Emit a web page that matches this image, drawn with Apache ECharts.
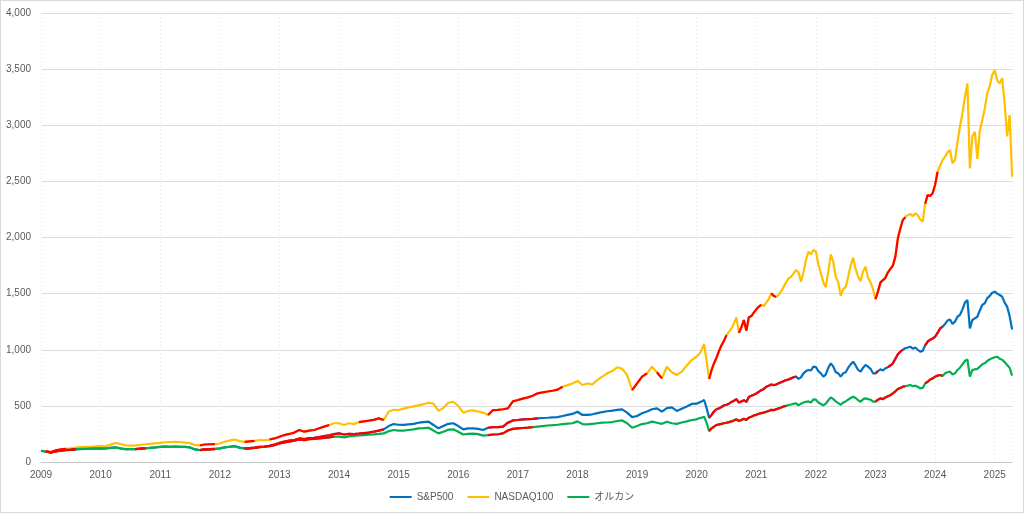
<!DOCTYPE html>
<html><head><meta charset="utf-8">
<script src="https://cdn.jsdelivr.net/npm/echarts@6/dist/echarts.min.js"></script>
<style>html,body{margin:0;padding:0;background:#fff}#c{width:1022px;height:511px;border:1px solid #d9d9d9}</style>
</head><body><div id="c"></div>
<script>
// x positions (decimal years): monthly 2009-2019, half-monthly 2020-2025/04
const tMonthly = [];
for (let y = 2009; y <= 2019; y++) for (let m = 0; m < 12; m++) tMonthly.push(y + m / 12);
const tHalf = [];
for (let k = 0; k < 128; k++) tHalf.push(2020 + k / 24);
const t = tMonthly.concat(tHalf);

const seriesNames = ['S&P500', 'NASDAQ100', 'オルカン'];
const yTicks = [0, 500, 1000, 1500, 2000, 2500, 3000, 3500, 4000];

const nasdaq = [
  100, 92, 88, 105, 112, 118, 122, 128, 132, 134, 135, 140,
  142, 140, 155, 170, 160, 148, 146, 148, 152, 158, 162, 166,
  170, 176, 178, 180, 178, 172, 168, 150, 148, 156, 158, 160,
  165, 180, 192, 200, 186, 180, 184, 188, 196, 192, 200, 210,
  225, 240, 250, 262, 285, 270, 280, 285, 300, 315, 330, 345,
  345, 330, 345, 340, 355, 362, 368, 375, 389, 374, 450, 465,
  463, 475, 487, 495, 505, 515, 528, 520, 457, 480, 528, 537,
  500, 439, 455, 460, 450, 440, 419, 463, 465, 470, 478, 540,
  552, 565, 576, 590, 612, 620, 628, 635, 645, 671, 685, 700,
  722, 686, 700, 690, 730, 760, 790, 810, 844, 830, 775, 641,
  700, 760, 790, 849, 800, 745, 849, 800, 775, 805, 860, 908,
  // 2020 half-monthly
  940, 960, 1000, 1051, 900, 740, 820, 880, 930, 990, 1040, 1080,
  1130, 1160, 1190, 1235, 1289, 1150, 1200, 1265, 1170, 1290, 1300, 1330,
  1360, 1384, 1400, 1390, 1420, 1450, 1503, 1480, 1470, 1490, 1520, 1560,
  1600, 1636, 1650, 1680, 1710, 1690, 1606, 1690, 1800, 1874, 1850, 1889,
  1874, 1760, 1681, 1600, 1560, 1700, 1850, 1780, 1650, 1600, 1480, 1540,
  1560, 1650, 1750, 1820, 1720, 1650, 1610, 1700, 1740, 1640, 1600, 1540,
  1450, 1520, 1600, 1620, 1640, 1690, 1720, 1750, 1830, 1993, 2080, 2156,
  2180, 2200, 2210, 2190, 2215, 2200, 2160, 2141, 2300, 2379, 2370, 2394,
  2470, 2586, 2640, 2690, 2720, 2760, 2779, 2661, 2690, 2850, 2987, 3106,
  3250, 3373, 2616, 2900, 2942, 2700, 2950, 3047, 3150, 3284, 3350, 3450,
  3492, 3400, 3373, 3420, 3195, 2900, 3090, 2541
];

const sp500 = [
  100, 92, 85, 95, 102, 106, 108, 112, 115, 116, 118, 120,
  122, 120, 126, 130, 122, 115, 116, 114, 118, 122, 126, 130,
  135, 137, 136, 138, 136, 134, 130, 112, 107, 112, 114, 118,
  122, 130, 136, 140, 128, 122, 124, 128, 134, 138, 145, 155,
  170, 182, 190, 196, 210, 205, 212, 215, 222, 230, 238, 248,
  255, 245, 250, 248, 252, 258, 262, 270, 280, 291, 320, 338,
  332, 330, 335, 340, 350, 355, 359, 330, 300, 320, 340, 345,
  320, 291, 300, 300, 295, 285, 305, 310, 310, 315, 350, 370,
  374, 380, 382, 385, 389, 392, 394, 398, 400, 410, 420, 428,
  448, 419, 420, 425, 435, 445, 452, 457, 465, 469, 440, 400,
  410, 434, 450, 470, 478, 448, 480, 487, 455, 475, 495, 517,
  // 2020 half-monthly
  520, 530, 540, 552, 480, 395, 420, 450, 470, 478, 490, 505,
  510, 520, 535, 545, 560, 530, 540, 550, 535, 580, 590, 600,
  610, 625, 640, 650, 671, 680, 690, 685, 690, 701, 710, 720,
  730, 735, 745, 755, 760, 740, 754, 790, 810, 820, 815, 849,
  845, 810, 790, 760, 780, 840, 879, 850, 800, 790, 760, 790,
  800, 840, 870, 894, 860, 820, 805, 840, 864, 850, 830, 790,
  790, 810, 826, 815, 835, 845, 860, 879, 920, 960, 983, 1000,
  1013, 1020, 1027, 1010, 1020, 1000, 983, 990, 1040, 1072, 1090, 1100,
  1116, 1150, 1190, 1205, 1230, 1260, 1270, 1230, 1250, 1294, 1310, 1360,
  1420, 1443, 1191, 1265, 1280, 1294, 1350, 1399, 1414, 1460, 1480, 1508,
  1517, 1500, 1488, 1473, 1420, 1384, 1300, 1180
];

const acwi = [
  100, 92, 85, 96, 104, 108, 110, 114, 117, 118, 120, 122,
  122, 120, 126, 130, 120, 114, 116, 114, 120, 124, 126, 130,
  135, 137, 136, 138, 136, 134, 130, 112, 105, 110, 112, 115,
  120, 130, 136, 142, 126, 120, 122, 126, 132, 136, 142, 150,
  165, 175, 182, 190, 200, 195, 203, 205, 210, 215, 220, 225,
  226, 220, 228, 232, 236, 240, 244, 246, 250, 255, 275, 285,
  280, 279, 285, 290, 300, 302, 305, 280, 255, 270, 288, 291,
  270, 245, 250, 252, 248, 235, 240, 245, 247, 255, 280, 295,
  300, 303, 306, 310, 315, 320, 325, 328, 332, 338, 342, 345,
  362, 338, 335, 340, 345, 350, 352, 356, 365, 370, 345, 305,
  320, 338, 345, 360, 350, 340, 359, 345, 340, 352, 362, 374,
  // 2020 half-monthly
  380, 390, 395, 404, 350, 275, 300, 315, 330, 335, 340, 345,
  350, 355, 362, 370, 380, 365, 374, 385, 375, 395, 404, 415,
  420, 430, 435, 440, 448, 455, 465, 462, 470, 478, 485, 495,
  500, 508, 512, 518, 523, 505, 520, 530, 537, 540, 530, 558,
  556, 530, 517, 505, 520, 550, 576, 560, 540, 525, 510, 530,
  540, 555, 570, 582, 570, 550, 537, 560, 567, 560, 555, 537,
  537, 555, 567, 560, 575, 585, 595, 612, 630, 650, 660, 671,
  675, 680, 686, 675, 680, 670, 656, 660, 700, 715, 735, 745,
  760, 770, 775, 766, 790, 800, 805, 780, 790, 820, 840, 870,
  900, 915, 760, 820, 825, 830, 849, 870, 879, 900, 915, 924,
  933, 938, 920, 911, 890, 864, 840, 770
];

// highlighted (red) periods, decimal years
const redNasdaq = [[2009.08,2009.42],[2011.66,2011.92],[2012.41,2012.59],[2012.83,2013.42],[2013.5,2013.84],[2014.33,2014.75],[2016.45,2017.75],[2018.9,2019.17],[2019.33,2019.42],[2020.17,2020.5],[2020.7,2021.1],[2021.25,2021.35],[2022.96,2023.5],[2023.8,2024.08]];
const redSp = [[2009.08,2009.6],[2010.58,2010.75],[2011.66,2011.92],[2012.41,2014.8],[2016.45,2017.4],[2020.17,2021.7],[2022.96,2023.08],[2023.2,2023.46],[2023.8,2024.15]];
const redAcwi = [[2009.08,2009.6],[2010.58,2010.75],[2011.66,2011.92],[2012.41,2013.92],[2016.45,2017.3],[2020.17,2021.5],[2022.96,2023.5],[2023.8,2024.15]];

const colors = { sp: '#0070C0', nq: '#FFC000', ac: '#00B050', red: '#FF0000' };

function pairs(vals) { return t.map((x, i) => [x, vals[i]]); }
function redPairs(vals, ranges) {
  return t.map((x, i) => ranges.some(r => x >= r[0] - 1e-9 && x <= r[1] + 1e-9) ? [x, vals[i]] : [x, '-']);
}
function commas(v) { return String(v).replace(/\B(?=(\d{3})+(?!\d))/g, ','); }

const font = "'Liberation Sans', 'Noto Sans CJK JP', sans-serif";
const line = (name, data, color, z) => ({
  name, type: 'line', data, showSymbol: false, symbol: 'none', z,
  lineStyle: { color, width: 2.2 }, itemStyle: { color }, connectNulls: false, animation: false
});

const chart = echarts.init(document.getElementById('c'));
chart.setOption({
  backgroundColor: '#ffffff',
  animation: false,
  grid: { left: 40, right: 11, top: 12, bottom: 50 },
  xAxis: {
    type: 'value', min: 2009, max: 2025.29, interval: 1,
    axisLine: { show: true, lineStyle: { color: '#c8c8c8', width: 1 } },
    axisTick: { show: false },
    axisLabel: { color: '#595959', fontSize: 10, fontFamily: font, margin: 8,
      formatter: v => (Math.abs(v - Math.round(v)) < 1e-6 ? String(Math.round(v)) : '') },
    splitLine: { show: true, lineStyle: { color: '#efefef', type: [2, 2], width: 1 } }
  },
  yAxis: {
    type: 'value', min: yTicks[0], max: yTicks[yTicks.length - 1], interval: 500,
    axisLine: { show: false }, axisTick: { show: false },
    axisLabel: { color: '#595959', fontSize: 10, fontFamily: font, margin: 10, formatter: v => commas(v) },
    splitLine: { show: true, lineStyle: { color: '#dcdcdc', width: 1 } }
  },
  legend: {
    data: seriesNames, left: 'center', top: 486, icon: 'rect', itemWidth: 22, itemHeight: 2, itemGap: 14,
    textStyle: { color: '#595959', fontSize: 10, fontFamily: font }
  },
  series: [
    line('NASDAQ100', pairs(nasdaq), colors.nq, 2),
    line('S&P500', pairs(sp500), colors.sp, 3),
    line('オルカン', pairs(acwi), colors.ac, 4),
    line('nq-red', redPairs(nasdaq, redNasdaq), colors.red, 5),
    line('sp-red', redPairs(sp500, redSp), colors.red, 5),
    line('ac-red', redPairs(acwi, redAcwi), colors.red, 5)
  ]
});
</script></body></html>
